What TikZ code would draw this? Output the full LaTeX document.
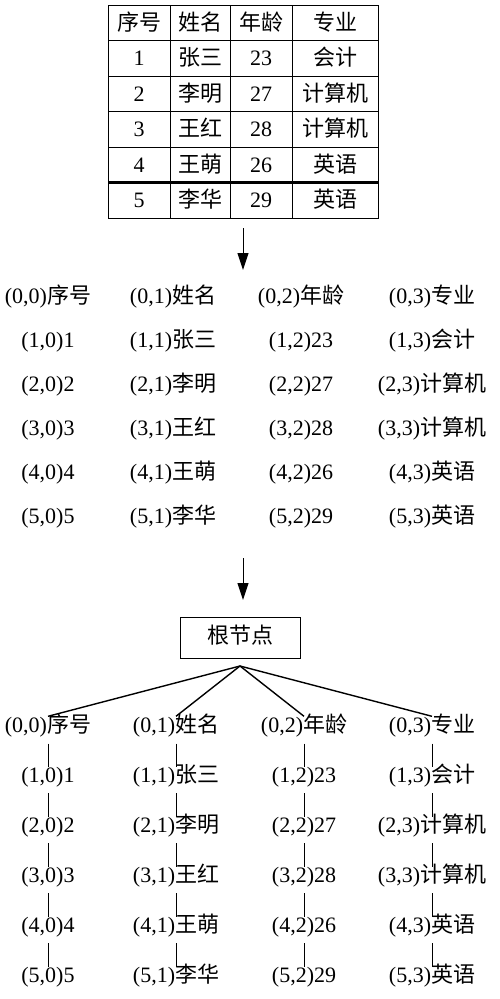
\documentclass[tikz,border=0pt]{standalone}
\usepackage{fontspec}
\setmainfont{Liberation Serif}
\newfontfamily\cjk{Noto Sans CJK SC}
\newcommand\zh[1]{{\cjk #1}}
\usetikzlibrary{arrows.meta}

\begin{document}
\begin{tikzpicture}[x=1pt, y=-1pt, grow=down,
    font=\fontsize{22}{26}\selectfont,
    every node/.style={inner sep=0pt, text height=15pt, text depth=5pt},
    arr/.style={line width=1pt, -{Triangle[length=17pt, width=11pt]}}]
    \tikzstyle{level 1} = [level distance=89pt, sibling distance=128pt, line width=1.4pt,
      edge from parent path={([yshift=-7pt]\tikzparentnode.south) -- (\tikzchildnode.north)}]
    \tikzstyle{level 2} = [level distance=50pt, line width=0.7pt,
      edge from parent path={([yshift=-6pt]\tikzparentnode.south) -- (\tikzchildnode.north)}]
    \useasboundingbox (0,0) rectangle (500,999);

    \draw[line width=1pt] (108,5) rectangle (378,218);
    \foreach \x in {170,230,292}
      \draw[line width=1pt] (\x,5) -- (\x,218);
    \foreach \y in {40.5,76,111.5,147}
      \draw[line width=1pt] (108,\y) -- (378,\y);
    \draw[line width=2.2pt] (108,182.5) -- (378,182.5);
    \foreach \r/\a/\b/\c/\d in {0/\zh{序号}/\zh{姓名}/\zh{年龄}/\zh{专业},
        1/1/\zh{张三}/23/\zh{会计}, 2/2/\zh{李明}/27/\zh{计算机},
        3/3/\zh{王红}/28/\zh{计算机}, 4/4/\zh{王萌}/26/\zh{英语},
        5/5/\zh{李华}/29/\zh{英语}} {
      \node (c\r0) at (139,{25+35.5*\r}) {\a};
      \node (c\r1) at (200,{25+35.5*\r}) {\b};
      \node (c\r2) at (261,{25+35.5*\r}) {\c};
      \node (c\r3) at (335,{25+35.5*\r}) {\d};
    }

    \coordinate (a1s) at (243,228);
    \coordinate (a1e) at (243,270);
    \draw[arr] (a1s) -- (a1e);

    \foreach \r/\a/\b/\c/\d in {0/\zh{序号}/\zh{姓名}/\zh{年龄}/\zh{专业},
        1/1/\zh{张三}/23/\zh{会计}, 2/2/\zh{李明}/27/\zh{计算机},
        3/3/\zh{王红}/28/\zh{计算机}, 4/4/\zh{王萌}/26/\zh{英语},
        5/5/\zh{李华}/29/\zh{英语}} {
      \node (g\r0) at (48,{298+44*\r}) {(\r,0)\a};
      \node (g\r1) at (173,{298+44*\r}) {(\r,1)\b};
      \node (g\r2) at (301,{298+44*\r}) {(\r,2)\c};
      \node (g\r3) at (432,{298+44*\r}) {(\r,3)\d};
    }

    \coordinate (a2s) at (243,558);
    \coordinate (a2e) at (243,600);
    \draw[arr] (a2s) -- (a2e);

    \node[draw, line width=1pt, minimum width=120pt, minimum height=41pt] (root) at (240,638) {\zh{根节点}}
      child {
        node (t00) {(0,0)\zh{序号}}
        child {
          node (t10) {(1,0)1}
          child {
            node (t20) {(2,0)2}
            child {
              node (t30) {(3,0)3}
              child {
                node (t40) {(4,0)4}
                child {
                  node (t50) {(5,0)5}
                }
              }
            }
          }
        }
      }
      child {
        node (t01) {(0,1)\zh{姓名}}
        child {
          node (t11) {(1,1)\zh{张三}}
          child {
            node (t21) {(2,1)\zh{李明}}
            child {
              node (t31) {(3,1)\zh{王红}}
              child {
                node (t41) {(4,1)\zh{王萌}}
                child {
                  node (t51) {(5,1)\zh{李华}}
                }
              }
            }
          }
        }
      }
      child {
        node (t02) {(0,2)\zh{年龄}}
        child {
          node (t12) {(1,2)23}
          child {
            node (t22) {(2,2)27}
            child {
              node (t32) {(3,2)28}
              child {
                node (t42) {(4,2)26}
                child {
                  node (t52) {(5,2)29}
                }
              }
            }
          }
        }
      }
      child {
        node (t03) {(0,3)\zh{专业}}
        child {
          node (t13) {(1,3)\zh{会计}}
          child {
            node (t23) {(2,3)\zh{计算机}}
            child {
              node (t33) {(3,3)\zh{计算机}}
              child {
                node (t43) {(4,3)\zh{英语}}
                child {
                  node (t53) {(5,3)\zh{英语}}
                }
              }
            }
          }
        }
      };
\end{tikzpicture}
\end{document}
